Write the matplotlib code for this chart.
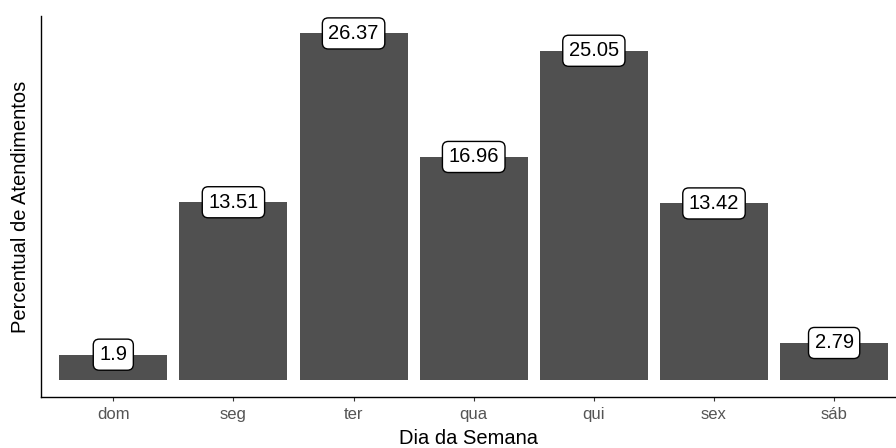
import matplotlib
matplotlib.use("Agg")
import matplotlib.pyplot as plt
import numpy as np

plt.rcParams['font.family'] = ['Liberation Sans', 'DejaVu Sans']

dias = ["dom", "seg", "ter", "qua", "qui", "sex", "sáb"]
percentual = [1.9, 13.51, 26.37, 16.96, 25.05, 13.42, 2.79]

fig = plt.figure(figsize=(8.96, 4.48), dpi=100)
ax = fig.add_axes([0.046, 0.114, 0.954, 0.85])

x = np.arange(1, len(dias) + 1)
ax.bar(x, percentual, width=0.9, color="#505050")

for xi, v in zip(x, percentual):
    ax.text(xi, v, f"{v:g}", ha="center", va="center", fontsize=14.5,
            color="black",
            bbox=dict(boxstyle="round,pad=0.3,rounding_size=0.3",
                      facecolor="white", edgecolor="black", linewidth=1.0))

# escala com expansao de 5% como no ggplot
top = max(percentual)
ax.set_ylim(-0.05 * top, 1.05 * top)
ax.set_xlim(0.4, 7.515)

ax.set_xticks(x)
ax.set_xticklabels(dias, fontsize=12, color="#555555")
ax.set_yticks([])
ax.tick_params(axis="x", length=3, width=0.8, color="#333333", pad=4)

for s in ["top", "right"]:
    ax.spines[s].set_visible(False)
for s in ["left", "bottom"]:
    ax.spines[s].set_linewidth(1.0)
    ax.spines[s].set_color("black")

ax.set_xlabel("Dia da Semana", fontsize=14.5, labelpad=5)
ax.set_ylabel("Percentual de Atendimentos", fontsize=14.5, labelpad=8)

fig.savefig("out.png", dpi=100)
